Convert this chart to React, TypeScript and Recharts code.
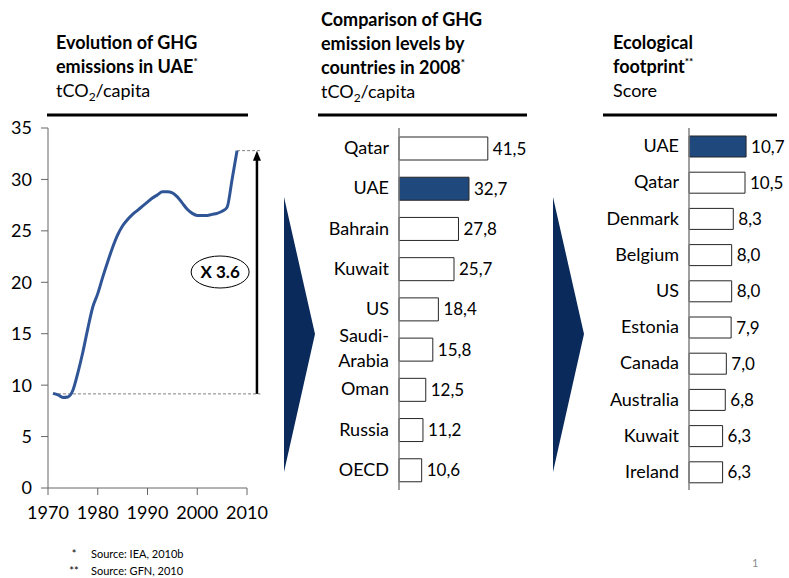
import React from "react";
import {
  LineChart, Line, XAxis, YAxis, ReferenceLine, ReferenceDot,
  BarChart, Bar, Cell, LabelList,
} from "recharts";

const FONT = "Lato, 'Noto Sans', sans-serif";

// Evolution of GHG emissions in UAE (tCO2/capita)
const years = [1971, 1972, 1973, 1974, 1975, 1976, 1977, 1978, 1979, 1980, 1981, 1982, 1983, 1984, 1985, 1986, 1987, 1988, 1989, 1990, 1991, 1992, 1993, 1994, 1995, 1996, 1997, 1998, 1999, 2000, 2001, 2002, 2003, 2004, 2005, 2006, 2007, 2008];
const uaeEmissions = [9.2, 9.05, 8.8, 8.85, 9.5, 11.2, 13.2, 15.5, 17.6, 18.9, 20.5, 22.0, 23.4, 24.6, 25.5, 26.1, 26.6, 27.0, 27.4, 27.8, 28.2, 28.5, 28.8, 28.8, 28.7, 28.3, 27.7, 27.1, 26.7, 26.5, 26.5, 26.5, 26.6, 26.7, 26.9, 27.3, 30.0, 32.8];
const xTicks = [1970, 1980, 1990, 2000, 2010];
const yTicks = [0, 5, 10, 15, 20, 25, 30, 35];
const startLevel = 9.15;
const endLevel = 32.8;

// Comparison of GHG emission levels by countries in 2008
const ghgCountries = ["Qatar", "UAE", "Bahrain", "Kuwait", "US", "Saudi-Arabia", "Oman", "Russia", "OECD"];
const ghgValues = [41.5, 32.7, 27.8, 25.7, 18.4, 15.8, 12.5, 11.2, 10.6];

// Ecological footprint
const ecoCountries = ["UAE", "Qatar", "Denmark", "Belgium", "US", "Estonia", "Canada", "Australia", "Kuwait", "Ireland"];
const ecoValues = [10.7, 10.5, 8.3, 8.0, 8.0, 7.9, 7.0, 6.8, 6.3, 6.3];

const lineData = years.map((y, i) => ({ year: y, value: uaeEmissions[i] }));
const ghgData = ghgCountries.map((n, i) => ({ name: n, value: ghgValues[i] }));
const ecoData = ecoCountries.map((n, i) => ({ name: n, value: ecoValues[i] }));

const NAVY = "#1f497d";
const fmt = (v: any) => Number(v).toFixed(1).replace(".", ",");

const CatTick = (props: any) => {
  const { x, y, payload } = props;
  const label: string = payload.value;
  if (label === "Saudi-Arabia") {
    return (
      <text x={x} y={y} textAnchor="end" fontSize={18} fontFamily={FONT} fill="#000">
        <tspan x={x} dy={-7}>Saudi-</tspan>
        <tspan x={x} dy={25}>Arabia</tspan>
      </text>
    );
  }
  return (
    <text x={x} y={y} dy={6} textAnchor="end" fontSize={18} fontFamily={FONT} fill="#000">
      {label}
    </text>
  );
};

const ArrowShape = (props: any) => {
  const { x1, y1, x2, y2 } = props;
  return (
    <g>
      <line x1={x1} y1={y1} x2={x2} y2={y2 + 8} stroke="#000" strokeWidth={2.5} />
      <polygon points={`${x2},${y2} ${x2 - 4},${y2 + 10} ${x2 + 4},${y2 + 10}`} fill="#000" />
    </g>
  );
};

const EllipseLabel = (props: any) => {
  const { cx, cy } = props;
  return (
    <g>
      <ellipse cx={cx} cy={cy} rx={29} ry={16} fill="#fff" stroke="#000" strokeWidth={1} />
      <text x={cx} y={cy + 6} textAnchor="middle" fontSize={17} fontWeight="bold" fontFamily={FONT} fill="#000">
        X 3.6
      </text>
    </g>
  );
};

const Title = ({ x, lines, unit, sup }: { x: number; lines: string[]; unit: React.ReactNode; sup: string }) => {
  const base = lines.length === 3 ? 26 : 49;
  return (
    <g fontFamily={FONT}>
      {lines.map((l, i) => (
        <text key={i} x={x} y={base + i * 24} fontSize={18} fontWeight="bold" fill="#000">
          {l}
          {i === lines.length - 1 ? (
            <tspan fontSize={10} dy={-8}>{sup}</tspan>
          ) : null}
        </text>
      ))}
      <text x={x} y={base + lines.length * 24} fontSize={18} fill="#000">{unit}</text>
    </g>
  );
};

const tco2 = (
  <>
    tCO<tspan fontSize={12} dy={4}>2</tspan>
    <tspan dy={-4}>/capita</tspan>
  </>
);

export default function App() {
  return (
    <div style={{ position: "absolute", left: 0, top: 0, width: 789, height: 578, background: "#fff", fontFamily: FONT }}>
      <svg width={789} height={578} style={{ position: "absolute", left: 0, top: 0 }}>
        <Title x={56} lines={["Evolution of GHG", "emissions in UAE"]} unit={tco2} sup="*" />
        <Title x={321} lines={["Comparison of GHG", "emission levels by", "countries in 2008"]} unit={tco2} sup="*" />
        <Title x={613} lines={["Ecological", "footprint"]} unit="Score" sup="**" />
        <line x1={47} x2={248} y1={115} y2={115} stroke="#000" strokeWidth={3} />
        <line x1={318} x2={527} y1={115} y2={115} stroke="#000" strokeWidth={3} />
        <line x1={603} x2={777} y1={115} y2={115} stroke="#000" strokeWidth={3} />
        <polygon points="284,197 315,334 284,472" fill="#0b2a5c" />
        <polygon points="553,197 584,334 553,472" fill="#0b2a5c" />
        <g fontFamily={FONT} fontSize={11} fill="#000">
          <text x={74} y={558} textAnchor="middle">*</text>
          <text x={91} y={558}>Source: IEA, 2010b</text>
          <text x={74} y={575} textAnchor="middle">**</text>
          <text x={91} y={575}>Source: GFN, 2010</text>
        </g>
        <text x={752} y={567} fontFamily={FONT} fontSize={11} fill="#8c8c8c">1</text>
      </svg>

      <div style={{ position: "absolute", left: 0, top: 100 }}>
        <LineChart width={280} height={440} data={lineData} margin={{ top: 28, right: 33, left: 0, bottom: 0 }}>
          <XAxis
            type="number"
            dataKey="year"
            domain={[1970, 2010]}
            ticks={xTicks}
            height={52}
            tickSize={7}
            tickMargin={11}
            stroke="#666"
            tick={{ fontSize: 18, fill: "#000", fontFamily: FONT }}
            allowDataOverflow
          />
          <YAxis
            type="number"
            domain={[0, 35]}
            ticks={yTicks}
            width={48}
            tickSize={7}
            tickMargin={9}
            stroke="#666"
            tick={{ fontSize: 18, fill: "#000", fontFamily: FONT }}
          />
          <ReferenceLine
            segment={[{ x: 1971, y: startLevel }, { x: 2012.7, y: startLevel }]}
            stroke="#808080"
            strokeDasharray="3 2"
            strokeWidth={1}
            ifOverflow="visible"
          />
          <ReferenceLine
            segment={[{ x: 2008, y: endLevel }, { x: 2012.7, y: endLevel }]}
            stroke="#808080"
            strokeDasharray="3 2"
            strokeWidth={1}
            ifOverflow="visible"
          />
          <ReferenceLine
            segment={[{ x: 2012, y: startLevel }, { x: 2012, y: endLevel }]}
            ifOverflow="visible"
            shape={ArrowShape}
          />
          <Line
            type="monotone"
            dataKey="value"
            stroke="#2f5597"
            strokeWidth={3}
            dot={false}
            isAnimationActive={false}
          />
          <ReferenceDot x={2004.6} y={21} ifOverflow="visible" shape={EllipseLabel} />
        </LineChart>
      </div>

      <div style={{ position: "absolute", left: 300, top: 100 }}>
        <BarChart width={250} height={400} data={ghgData} layout="vertical" margin={{ top: 28, right: 44, left: 0, bottom: 10 }}>
          <XAxis type="number" domain={[0, 50]} hide />
          <YAxis
            type="category"
            dataKey="name"
            width={99}
            tickLine={false}
            tickSize={0}
            tickMargin={10}
            stroke="#808080"
            strokeWidth={1.5}
            tick={<CatTick />}
            interval={0}
          />
          <Bar dataKey="value" barSize={23} stroke="#262626" strokeWidth={1} isAnimationActive={false}>
            {ghgData.map((d, i) => (
              <Cell key={i} fill={d.name === "UAE" ? NAVY : "#fff"} />
            ))}
            <LabelList dataKey="value" position="right" offset={5} formatter={fmt} fill="#000" fontSize={17} fontFamily={FONT} />
          </Bar>
        </BarChart>
      </div>

      <div style={{ position: "absolute", left: 590, top: 100 }}>
        <BarChart width={199} height={400} data={ecoData} layout="vertical" margin={{ top: 28, right: 20, left: 0, bottom: 10 }}>
          <XAxis type="number" domain={[0, 15]} hide />
          <YAxis
            type="category"
            dataKey="name"
            width={99}
            tickLine={false}
            tickSize={0}
            tickMargin={10}
            stroke="#808080"
            strokeWidth={1.5}
            tick={<CatTick />}
            interval={0}
          />
          <Bar dataKey="value" barSize={21} stroke="#262626" strokeWidth={1} isAnimationActive={false}>
            {ecoData.map((d, i) => (
              <Cell key={i} fill={d.name === "UAE" ? NAVY : "#fff"} />
            ))}
            <LabelList dataKey="value" position="right" offset={5} formatter={fmt} fill="#000" fontSize={17} fontFamily={FONT} />
          </Bar>
        </BarChart>
      </div>
    </div>
  );
}
